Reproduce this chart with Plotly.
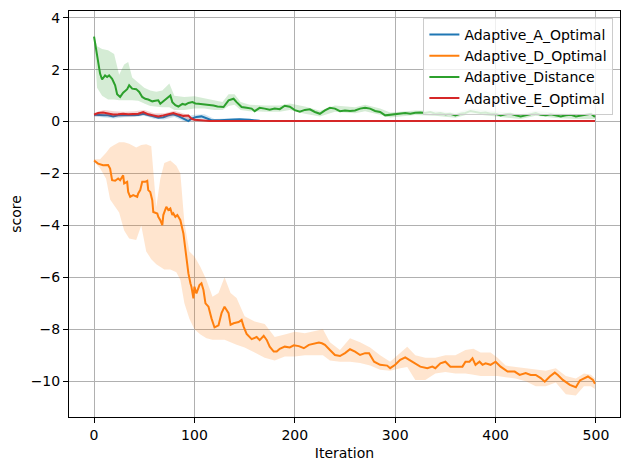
import plotly.graph_objects as go

# values
A_X = [0, 5, 10, 14, 19, 24, 29, 34, 44, 49, 54, 59, 64, 69, 74, 79, 84, 89, 92, 94, 97,
       102, 107, 112, 117, 125, 135, 145, 155, 165, 200, 300, 400, 499]
A_Y = [0.26, 0.24, 0.24, 0.24, 0.20, 0.24, 0.24, 0.24, 0.25, 0.30, 0.24, 0.20, 0.15, 0.17,
       0.24, 0.28, 0.21, 0.10, 0.05, 0.02, 0.11, 0.18, 0.20, 0.11, 0.05, 0.05, 0.08, 0.09,
       0.07, 0.03, 0.02, 0.02, 0.02, 0.02]
A_BAND_X = [0, 10, 20, 30, 40, 50, 60, 70, 80, 90, 100, 110, 120, 140, 160, 499]
A_LO = [0.20, 0.17, 0.12, 0.17, 0.18, 0.22, 0.10, 0.08, 0.18, 0.0, 0.05, 0.08, 0.0, 0.03, 0.0, 0.0]
A_HI = [0.30, 0.30, 0.28, 0.30, 0.30, 0.36, 0.28, 0.26, 0.34, 0.20, 0.26, 0.28, 0.10, 0.14, 0.06, 0.04]

D_X = [0, 4, 9, 14, 16, 18, 21, 24, 26, 28, 29, 30, 33, 34, 36, 39, 43, 44, 46, 48, 51, 53,
       54, 56, 58, 59, 63, 64, 66, 68, 69, 72, 74, 76, 78, 79, 81, 83, 86, 89, 91, 93, 94,
       96, 97, 99, 100, 102, 104, 105, 107, 109, 111, 114, 117, 120, 124, 127, 130, 134,
       136, 139, 144, 147, 149, 152, 157, 162, 165, 169, 172, 175, 179, 182, 185, 190, 195,
       199, 204, 209, 214, 219, 224, 227, 230, 235, 240, 245, 250, 255, 260, 265, 270, 274,
       279, 285, 292, 295, 300, 305, 310, 314, 319, 325, 332, 337, 340, 345, 350, 355, 362,
       367, 370, 374, 377, 380, 384, 387, 390, 395, 400, 405, 412, 419, 424, 430, 435, 440,
       445, 449, 454, 459, 462, 467, 474, 480, 484, 489, 492, 497, 499]
D_Y = [-1.50, -1.62, -1.68, -1.67, -1.81, -2.26, -2.28, -2.19, -2.26, -2.13, -2.07, -2.38,
       -2.32, -2.71, -2.90, -2.83, -2.90, -2.77, -2.64, -2.32, -2.32, -2.28, -2.64, -2.71,
       -3.03, -3.48, -3.54, -3.67, -3.80, -3.99, -3.60, -3.28, -3.41, -3.35, -3.60, -3.54,
       -3.67, -3.60, -3.80, -4.31, -4.95, -5.46, -5.85, -6.23, -6.36, -6.81, -6.36, -6.62,
       -6.36, -6.30, -6.23, -6.49, -7.00, -7.13, -7.58, -7.93, -7.85, -7.38, -7.13, -7.38,
       -7.83, -7.77, -7.72, -7.64, -7.90, -8.18, -8.38, -8.30, -8.42, -8.25, -8.41, -8.67,
       -8.86, -8.86, -8.75, -8.67, -8.70, -8.62, -8.65, -8.73, -8.60, -8.54, -8.51, -8.54,
       -8.60, -8.80, -8.99, -9.03, -8.92, -8.77, -8.86, -8.99, -8.92, -8.92, -9.25, -9.37,
       -9.40, -9.50, -9.37, -9.18, -9.08, -9.18, -9.31, -9.44, -9.50, -9.44, -9.50, -9.31,
       -9.25, -9.44, -9.44, -9.44, -9.25, -9.25, -9.12, -9.37, -9.25, -9.37, -9.31, -9.37,
       -9.25, -9.44, -9.63, -9.63, -9.76, -9.69, -9.76, -9.76, -9.88, -10.02, -9.82, -9.67,
       -9.76, -9.95, -10.14, -10.23, -9.97, -9.88, -9.82, -9.95, -10.10]
D_BAND_X = [0, 6, 12, 16, 20, 25, 30, 35, 42, 47, 52, 57, 62, 66, 70, 76, 82, 86, 90, 95,
            100, 106, 112, 118, 124, 130, 136, 142, 150, 160, 170, 180, 190, 200, 210, 220,
            228, 235, 245, 255, 265, 275, 285, 295, 305, 312, 320, 330, 340, 350, 360, 370,
            378, 385, 395, 402, 410, 420, 430, 440, 450, 460, 470, 480, 488, 495, 499]
D_HI = [-1.45, -1.45, -1.2, -1.0, -0.9, -0.8, -0.8, -0.85, -1.0, -0.9, -0.87, -0.95, -3.3,
        -2.2, -1.6, -1.5, -1.7, -2.0, -3.9, -5.0, -5.2, -5.6, -6.1, -6.75, -6.6, -6.0, -6.6,
        -6.8, -7.5, -7.7, -7.8, -8.3, -8.2, -8.1, -8.15, -8.05, -8.0, -8.5, -8.8, -8.35,
        -8.5, -8.7, -9.0, -9.25, -8.9, -8.67, -9.0, -9.1, -9.1, -9.0, -9.0, -8.8, -8.75,
        -8.9, -8.9, -9.1, -9.4, -9.45, -9.5, -9.55, -9.6, -9.5, -9.8, -9.9, -9.7, -9.75, -9.9]
D_LO = [-1.55, -1.8, -2.2, -3.0, -3.2, -3.5, -4.2, -4.5, -4.56, -4.0, -5.0, -5.3, -5.5,
        -5.6, -5.7, -5.7, -5.8, -6.1, -7.0, -7.6, -8.0, -8.2, -8.35, -8.4, -8.4, -8.4, -8.5,
        -8.6, -8.7, -8.9, -9.1, -9.2, -9.05, -9.05, -9.0, -9.0, -9.0, -9.2, -9.25, -9.25,
        -9.3, -9.4, -9.56, -9.6, -9.5, -9.45, -9.95, -9.95, -9.7, -9.65, -9.7, -9.7, -9.75,
        -9.8, -9.8, -9.8, -9.85, -9.9, -10.0, -10.2, -10.2, -10.05, -10.5, -10.55, -10.2,
        -10.2, -10.3]

DIST_X = [0, 3, 6, 8, 11, 13, 15, 18, 21, 23, 26, 29, 33, 35, 38, 42, 45, 48, 51, 54, 58,
          61, 64, 66, 70, 73, 76, 78, 81, 84, 88, 91, 94, 98, 101, 104, 108, 114, 119, 123,
          129, 134, 139, 142, 147, 152, 157, 160, 165, 170, 175, 180, 185, 190, 195, 200,
          205, 210, 215, 220, 225, 230, 235, 240, 245, 250, 255, 260, 265, 270, 275, 280,
          285, 290, 295, 300, 305, 310, 315, 320, 325, 330, 335, 340, 345, 350, 355, 360,
          365, 370, 375, 380, 385, 390, 395, 400, 405, 410, 415, 420, 425, 430, 435, 440,
          445, 450, 455, 460, 465, 470, 475, 480, 485, 490, 495, 499]
DIST_Y = [3.27, 2.55, 1.85, 1.62, 1.78, 1.72, 1.78, 1.65, 1.40, 1.05, 0.95, 1.11, 1.25,
          1.40, 1.27, 1.25, 1.14, 0.95, 0.88, 0.85, 0.78, 0.80, 0.82, 0.69, 0.82, 0.88, 1.01,
          0.75, 0.63, 0.58, 0.68, 0.65, 0.72, 0.75, 0.70, 0.69, 0.67, 0.66, 0.62, 0.58, 0.56,
          0.82, 0.88, 0.75, 0.56, 0.53, 0.50, 0.40, 0.53, 0.50, 0.46, 0.50, 0.48, 0.61, 0.57,
          0.44, 0.38, 0.45, 0.47, 0.37, 0.30, 0.43, 0.53, 0.50, 0.40, 0.43, 0.41, 0.43, 0.50,
          0.53, 0.50, 0.41, 0.37, 0.24, 0.26, 0.28, 0.30, 0.33, 0.30, 0.34, 0.35, 0.33, 0.37,
          0.30, 0.33, 0.28, 0.30, 0.24, 0.30, 0.33, 0.41, 0.37, 0.33, 0.35, 0.30, 0.30, 0.24,
          0.28, 0.30, 0.24, 0.20, 0.24, 0.30, 0.33, 0.26, 0.24, 0.28, 0.24, 0.20, 0.24, 0.26,
          0.20, 0.24, 0.28, 0.30, 0.18]
DIST_BAND_X = [0, 3, 8, 14, 20, 25, 30, 34, 38, 44, 50, 56, 62, 68, 75, 80, 90, 100, 110,
               120, 128, 134, 140, 146, 155, 170, 185, 195, 210, 225, 240, 260, 270, 285,
               295, 320, 340, 360, 375, 400, 425, 440, 460, 480, 499]
DIST_LO = [3.1, 1.3, 1.0, 0.85, 0.85, 0.82, 0.82, 0.82, 0.82, 0.8, 0.7, 0.6, 0.58, 0.55,
           0.55, 0.45, 0.45, 0.5, 0.5, 0.45, 0.45, 0.6, 0.65, 0.45, 0.4, 0.38, 0.38, 0.45,
           0.3, 0.2, 0.38, 0.32, 0.4, 0.26, 0.16, 0.25, 0.22, 0.15, 0.3, 0.2, 0.1, 0.22, 0.14,
           0.1, 0.1]
DIST_HI = [3.35, 2.9, 2.8, 2.75, 2.6, 1.8, 2.2, 2.3, 1.7, 1.5, 1.3, 1.2, 1.15, 1.2, 1.47,
           1.0, 0.95, 0.98, 0.9, 0.8, 0.75, 1.05, 1.05, 0.75, 0.65, 0.62, 0.62, 0.7, 0.58,
           0.42, 0.62, 0.55, 0.65, 0.5, 0.35, 0.43, 0.42, 0.34, 0.5, 0.4, 0.3, 0.42, 0.34,
           0.3, 0.26]

E_X = [0, 4, 9, 14, 19, 24, 29, 34, 39, 44, 49, 54, 59, 64, 69, 74, 79, 84, 89, 94, 97,
       100, 105, 115, 200, 300, 400, 499]
E_Y = [0.27, 0.33, 0.35, 0.30, 0.27, 0.28, 0.30, 0.28, 0.30, 0.30, 0.37, 0.28, 0.24, 0.20,
       0.24, 0.28, 0.33, 0.27, 0.22, 0.23, 0.11, 0.07, 0.05, 0.02, 0.02, 0.02, 0.02, 0.02]
E_BAND_X = [0, 10, 20, 30, 40, 50, 60, 70, 80, 90, 100, 110, 499]
E_LO = [0.20, 0.22, 0.18, 0.20, 0.20, 0.25, 0.15, 0.14, 0.22, 0.12, 0.0, 0.0, 0.0]
E_HI = [0.34, 0.45, 0.40, 0.38, 0.40, 0.45, 0.32, 0.32, 0.42, 0.30, 0.14, 0.05, 0.04]

series = [
    ("Adaptive_A_Optimal", "#1f77b4", "rgba(31,119,180,0.2)", A_X, A_Y, A_BAND_X, A_LO, A_HI),
    ("Adaptive_D_Optimal", "#ff7f0e", "rgba(255,127,14,0.2)", D_X, D_Y, D_BAND_X, D_LO, D_HI),
    ("Adaptive_Distance", "#2ca02c", "rgba(44,160,44,0.2)", DIST_X, DIST_Y, DIST_BAND_X, DIST_LO, DIST_HI),
    ("Adaptive_E_Optimal", "#d62728", "rgba(214,39,40,0.2)", E_X, E_Y, E_BAND_X, E_LO, E_HI),
]

fig = go.Figure()
for name, color, fillc, x, y, bx, lo, hi in series:
    # shaded band as one closed polygon
    fig.add_trace(go.Scatter(
        x=list(bx) + list(bx)[::-1],
        y=list(hi) + list(lo)[::-1],
        fill='toself', fillcolor=fillc,
        line=dict(width=0), mode='lines',
        hoverinfo='skip', showlegend=False,
    ))
    fig.add_trace(go.Scatter(
        x=x, y=y, mode='lines', name=name,
        line=dict(color=color, width=2),
    ))

axis_common = dict(
    showgrid=True, gridcolor='#b0b0b0', gridwidth=0.8,
    showline=True, linecolor='black', linewidth=1, mirror=True,
    ticks='outside', ticklen=5, tickcolor='black',
    zeroline=False,
    tickfont=dict(family='DejaVu Sans', size=14, color='black'),
)

# the page body has an 8px margin, so the figure is shifted by 8px
fig.update_layout(
    width=622, height=462,
    margin=dict(l=61, r=10, t=3, b=53),
    paper_bgcolor='white', plot_bgcolor='white',
    font=dict(family='DejaVu Sans', size=14, color='black'),
    xaxis=dict(range=[-24.95, 523.95], tickvals=[0, 100, 200, 300, 400, 500],
               title=dict(text='Iteration', standoff=6,
                          font=dict(family='DejaVu Sans', size=14)), **axis_common),
    yaxis=dict(range=[-11.38, 4.26], tickvals=[-10, -8, -6, -4, -2, 0, 2, 4],
               title=dict(text='score', standoff=8,
                          font=dict(family='DejaVu Sans', size=14)), **axis_common),
    legend=dict(
        x=0.988, y=0.983, xanchor='right', yanchor='top',
        bgcolor='rgba(255,255,255,0.8)', bordercolor='#cccccc', borderwidth=1,
        font=dict(family='DejaVu Sans', size=14),
        tracegroupgap=0, itemwidth=30,
    ),
)

fig.write_html("out.html")
